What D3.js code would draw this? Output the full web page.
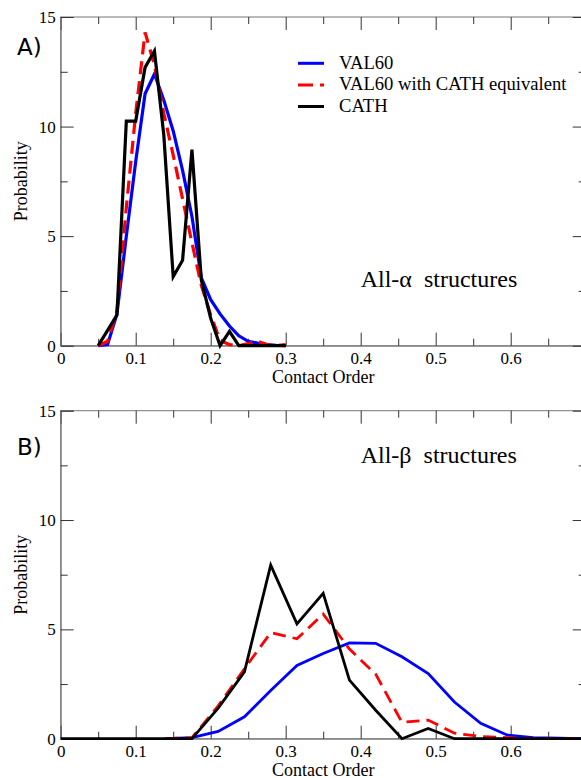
<!DOCTYPE html>
<html><head><meta charset="utf-8">
<script src="https://d3js.org/d3.v7.min.js"></script>
<style>body{margin:0;background:#fff;} svg{display:block;}</style>
</head><body>
<script>
// ---- Data ----
const seriesNames = ["VAL60", "VAL60 with CATH equivalent", "CATH"];

// Panel A: All-alpha structures
const xA = [0.05,0.0625,0.075,0.0875,0.1,0.1125,0.125,0.1375,0.15,0.1625,0.175,0.1875,0.2,0.2125,0.225,0.2375,0.25,0.2625,0.275,0.2875,0.3];
const aVal60 = [0,0.05,1.45,5.0,8.4,11.5,12.4,11.2,9.8,8.0,5.9,3.1,2.1,1.45,0.9,0.45,0.2,0.12,0.05,0.02,0];
const aVal60Cath = [0,0.2,1.6,6.3,10.6,14.3,12.8,10.6,8.7,6.7,4.7,2.75,1.4,0.25,0.05,0,0.1,0.2,0.05,0,0.05];
const aCath = [0,0.7,1.4,10.25,10.25,12.7,13.45,9.6,3.15,3.9,8.95,3.0,1.25,0,0.65,0,0,0,0,0,0];

// Panel B: All-beta structures
const xB = [0,0.035,0.07,0.105,0.14,0.175,0.21,0.245,0.28,0.315,0.35,0.385,0.42,0.455,0.49,0.525,0.56,0.595,0.63,0.665,0.7];
const bVal60 = [null,null,null,null,0,0.05,0.33,1.0,2.2,3.35,3.9,4.38,4.36,3.75,2.98,1.68,0.7,0.17,0.05,0.02,0];
const bVal60Cath = [null,null,null,null,0,0.05,1.5,3.2,4.85,4.57,5.7,4.1,2.95,0.75,0.85,0.25,0.1,0.05,0,0,0];
const bCath = [0,0,0,0,0,0,1.4,3.06,7.94,5.25,6.65,2.68,1.3,0,0.47,0,0,0,0,0,0];

const xTickLabels = [0,0.1,0.2,0.3,0.4,0.5,0.6];
const yTickLabels = [0,5,10,15];
const xMinorTicks = [0.05,0.15,0.25,0.35,0.45,0.55,0.65];
const yMinorTicks = [2.5,7.5,12.5];

// ---- Layout ----
const W = 581, H = 778;
const left = 60.7, right = 585.7;
const panels = [
  {top: 17, bottom: 345.7, x: xA, ys: [aVal60, aVal60Cath, aCath], tag: "A)", tagY: 55,
   title: "All-\u03b1  structures", titleY: 286.7, legend: true, lw: 3.2, xlabY: 383.3},
  {top: 410.7, bottom: 738.7, x: xB, ys: [bVal60, bVal60Cath, bCath], tag: "B)", tagY: 455,
   title: "All-\u03b2  structures", titleY: 463, legend: false, lw: 2.8, xlabY: 775.5}
];
const colors = ["#0000ff", "#ff0000", "#000000"];
const dashes = [null, "13,7", null];
const serif = "'Liberation Serif','Times New Roman',serif";

const svg = d3.select("body").append("svg").attr("width", W).attr("height", H);

panels.forEach(p => {
  const x = d3.scaleLinear().domain([0, 0.7]).range([left, right]);
  const y = d3.scaleLinear().domain([0, 15]).range([p.bottom, p.top]);
  const g = svg.append("g");

  // frame
  g.append("rect").attr("x", left).attr("y", p.top)
    .attr("width", right - left).attr("height", p.bottom - p.top)
    .attr("fill", "none").attr("stroke", "#777").attr("stroke-width", 1);

  const tk = "#333";
  // bottom axis (ticks inward)
  const bx = d3.axisBottom(x).tickValues(xTickLabels).tickSize(-13).tickPadding(18).tickFormat(d3.format("~g"));
  const gb = g.append("g").attr("transform", `translate(0,${p.bottom})`).call(bx);
  gb.select(".domain").attr("stroke", "#777");
  gb.selectAll(".tick line").attr("stroke", tk);
  gb.selectAll(".tick text").attr("font-family", serif).attr("font-size", 17).attr("fill", "#000").attr("dy", "0");
  gb.selectAll(".tick text").attr("y", 18.3);
  const bxm = d3.axisBottom(x).tickValues(xMinorTicks).tickSize(-7).tickFormat("");
  const gbm = g.append("g").attr("transform", `translate(0,${p.bottom})`).call(bxm);
  gbm.select(".domain").remove(); gbm.selectAll(".tick line").attr("stroke", tk);
  // top axis
  const tx = d3.axisTop(x).tickValues(xTickLabels).tickSize(-13).tickFormat("");
  const gt = g.append("g").attr("transform", `translate(0,${p.top})`).call(tx);
  gt.select(".domain").remove(); gt.selectAll(".tick line").attr("stroke", tk);
  const txm = d3.axisTop(x).tickValues(xMinorTicks).tickSize(-7).tickFormat("");
  const gtm = g.append("g").attr("transform", `translate(0,${p.top})`).call(txm);
  gtm.select(".domain").remove(); gtm.selectAll(".tick line").attr("stroke", tk);
  // left axis
  const ly = d3.axisLeft(y).tickValues(yTickLabels).tickSize(-13).tickPadding(6);
  const gl = g.append("g").attr("transform", `translate(${left},0)`).call(ly);
  gl.select(".domain").attr("stroke", "#777");
  gl.selectAll(".tick line").attr("stroke", tk);
  gl.selectAll(".tick text").attr("font-family", serif).attr("font-size", 17).attr("fill", "#000")
    .attr("x", -5).attr("dy", "0.32em");
  const lym = d3.axisLeft(y).tickValues(yMinorTicks).tickSize(-7).tickFormat("");
  const glm = g.append("g").attr("transform", `translate(${left},0)`).call(lym);
  glm.select(".domain").remove(); glm.selectAll(".tick line").attr("stroke", tk);
  // right axis
  const ry = d3.axisRight(y).tickValues(yTickLabels).tickSize(-13).tickFormat("");
  const gr = g.append("g").attr("transform", `translate(${right},0)`).call(ry);
  gr.select(".domain").remove(); gr.selectAll(".tick line").attr("stroke", tk);
  const rym = d3.axisRight(y).tickValues(yMinorTicks).tickSize(-7).tickFormat("");
  const grm = g.append("g").attr("transform", `translate(${right},0)`).call(rym);
  grm.select(".domain").remove(); grm.selectAll(".tick line").attr("stroke", tk);

  // series lines
  p.ys.forEach((vals, i) => {
    const pts = p.x.map((xv, j) => [xv, vals[j]]);
    const line = d3.line().defined(d => d[1] !== null)
      .x(d => x(d[0])).y(d => y(d[1]));
    g.append("path").datum(pts).attr("d", line)
      .attr("fill", "none").attr("stroke", colors[i]).attr("stroke-width", p.lw)
      .attr("stroke-linejoin", "miter").attr("stroke-dasharray", dashes[i]);
  });

  // axis labels
  g.append("text").attr("x", (left + right) / 2).attr("y", p.xlabY)
    .attr("text-anchor", "middle").attr("font-family", serif).attr("font-size", 18)
    .text("Contact Order");
  g.append("text").attr("transform", `translate(27,${(p.top + p.bottom) / 2}) rotate(-90)`)
    .attr("text-anchor", "middle").attr("font-family", serif).attr("font-size", 18)
    .text("Probability");

  // panel tag
  g.append("text").attr("x", 17).attr("y", p.tagY)
    .attr("font-family", "'DejaVu Sans',sans-serif").attr("font-size", 23).text(p.tag);

  // title
  g.append("text").attr("x", 360.7).attr("y", p.titleY)
    .attr("font-family", serif).attr("font-size", 24).style("white-space", "pre")
    .text(p.title);

  if (p.legend) {
    const ly0 = [63.3, 85, 106.5];
    seriesNames.forEach((name, i) => {
      g.append("line").attr("x1", 298).attr("x2", 324).attr("y1", ly0[i]).attr("y2", ly0[i])
        .attr("stroke", colors[i]).attr("stroke-width", 3)
        .attr("stroke-dasharray", i === 1 ? "15,7" : null);
      g.append("text").attr("x", 339).attr("y", ly0[i] + 5.3)
        .attr("font-family", serif).attr("font-size", 18.6).text(name);
    });
  }
});
</script>
</body></html>
